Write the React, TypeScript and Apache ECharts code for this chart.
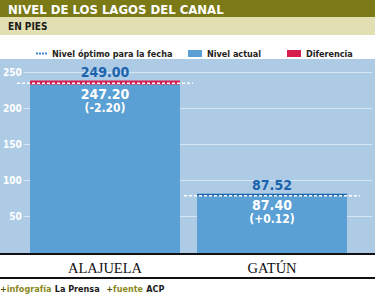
import React, { useEffect, useRef } from "react";
import * as echarts from "echarts";

const categories = ["ALAJUELA", "GATÚN"];
const nivelActual = [247.2, 87.4];
const diferencia: (number | null)[] = [1.8, null];
const excedente: (number | null)[] = [null, 0.12];
const nivelOptimo = [249.0, 87.4];
const etiquetaSuperior = ["249.00", "87.52"];
const etiquetaActual = ["247.20", "87.40"];
const etiquetaDiferencia = ["(-2.20)", "(+0.12)"];
const yMin = 0;
const yMax = 250;
const yInterval = 50;

const COND = "'DejaVu Sans Condensed','DejaVu Sans',sans-serif";
const SERIF = "'Liberation Serif','DejaVu Serif',serif";

export default function App() {
  const ref = useRef<HTMLDivElement>(null);
  useEffect(() => {
    if (!ref.current) return;
    const chart = echarts.init(ref.current, null, { renderer: "svg" });
    const topLabel = {
      show: true,
      position: "top",
      distance: 2,
      color: "#1b63ad",
      fontFamily: COND,
      fontWeight: "bold",
      fontSize: 14,
      formatter: (p: any) => etiquetaSuperior[p.dataIndex],
    };
    const legendText = { color: "#222", fontFamily: COND, fontWeight: "bold", fontSize: 9 };
    chart.setOption({
      animation: false,
      grid: [
        { left: 22, right: 3, top: 72, bottom: 43 },
        { left: 21.5, right: 19.5, top: 59, bottom: 42 },
      ],
      legend: [
        {
          left: 31, top: 44, itemWidth: 11, itemHeight: 7, selectedMode: false, itemGap: 0,
          textStyle: legendText,
          data: [{
            name: "Nivel óptimo para la fecha",
            icon: "path://M0 0h2v2H0zM3 0h2v2H3zM6 0h2v2H6zM9 0h2v2H9z",
            itemStyle: { color: "#3f86c8" },
          }],
        },
        {
          left: 183, top: 44, itemWidth: 14, itemHeight: 7, selectedMode: false,
          textStyle: legendText,
          data: [{ name: "Nivel actual", icon: "rect" }],
        },
        {
          left: 282, top: 44, itemWidth: 14, itemHeight: 7, selectedMode: false,
          textStyle: legendText,
          data: [{ name: "Diferencia", icon: "rect" }],
        },
      ],
      xAxis: [
        { gridIndex: 0, type: "category", data: categories, show: false },
        {
          gridIndex: 1, type: "category", data: categories, z: 60,
          axisLine: { show: false }, axisTick: { show: false },
          axisLabel: { margin: 7, fontFamily: SERIF, fontSize: 14.5, color: "#111" },
        },
      ],
      yAxis: [
        {
          gridIndex: 0, type: "value", min: yMin, max: yMax, interval: yInterval,
          axisLine: { show: false }, axisTick: { show: false },
          axisLabel: { showMinLabel: false, color: "#fff", fontFamily: COND, fontWeight: "bold", fontSize: 10, margin: 2 },
          splitLine: { show: true, showMinLine: false, lineStyle: { color: "#d6e6f4", width: 1 } },
        },
        { gridIndex: 1, type: "value", min: 5, max: 284, show: false },
      ],
      series: [
        {
          name: "Nivel actual", type: "bar", xAxisIndex: 1, yAxisIndex: 1, stack: "n",
          barWidth: 150, data: nivelActual, itemStyle: { color: "#5aa0d4" },
          label: {
            show: true, position: "insideTop", distance: 1.5,
            formatter: (p: any) => `{a|${etiquetaActual[p.dataIndex]}}\n{b|${etiquetaDiferencia[p.dataIndex]}}`,
            rich: {
              a: { color: "#fff", fontFamily: COND, fontWeight: "bold", fontSize: 14, lineHeight: 15 },
              b: { color: "#fff", fontFamily: COND, fontWeight: "bold", fontSize: 12, lineHeight: 14 },
            },
          },
        },
        {
          name: "Diferencia", type: "bar", xAxisIndex: 1, yAxisIndex: 1, stack: "n",
          barWidth: 150, barMinHeight: 4, data: diferencia, itemStyle: { color: "#d71f4f" },
          label: topLabel,
        },
        {
          name: "Excedente", type: "bar", xAxisIndex: 1, yAxisIndex: 1, stack: "n",
          barWidth: 150, barMinHeight: 2, data: excedente, itemStyle: { color: "#1b63ad" },
          label: topLabel,
        },
        {
          name: "Nivel óptimo para la fecha", type: "custom", xAxisIndex: 1, yAxisIndex: 1, z: 10,
          itemStyle: { color: "#3f86c8" },
          encode: { x: 0, y: 1 },
          data: nivelOptimo.map((v, i) => [i, v]),
          renderItem: (params: any, api: any) => {
            const p = api.coord([api.value(0), api.value(1)]);
            const half = api.size([1, 0])[0] * 0.527;
            return {
              type: "line",
              shape: { x1: p[0] - half, y1: p[1], x2: p[0] + half, y2: p[1] },
              style: { stroke: "#ffffff", lineWidth: 1.5, lineDash: [3, 2] },
            };
          },
        },
      ],
      graphic: [
        { type: "rect", z: -10, silent: true, shape: { x: 0, y: 59, width: 375, height: 194 }, style: { fill: "#aecbe6" } },
        { type: "rect", z: 1, shape: { x: 0, y: 0, width: 375, height: 17 }, style: { fill: "#7b7a17" } },
        { type: "rect", z: 1, shape: { x: 0, y: 17, width: 375, height: 18 }, style: { fill: "#e2e0b3" } },
        {
          type: "text", z: 2, x: 8, y: 9,
          style: { text: "NIVEL DE LOS LAGOS DEL CANAL", fill: "#fff", fontFamily: COND, fontWeight: "bold", fontSize: 13, verticalAlign: "middle" },
        },
        {
          type: "text", z: 2, x: 8, y: 26,
          style: { text: "EN PIES", fill: "#1a1a1a", fontFamily: COND, fontWeight: "bold", fontSize: 10, verticalAlign: "middle" },
        },
        { type: "rect", z: 50, shape: { x: 0, y: 253, width: 375, height: 26 }, style: { fill: "#ffffff" } },
        { type: "rect", z: 51, shape: { x: 0, y: 253, width: 375, height: 2 }, style: { fill: "#111" } },
        { type: "rect", z: 51, shape: { x: 0, y: 277, width: 375, height: 2 }, style: { fill: "#111" } },
        {
          type: "text", z: 52, x: 0, y: 289,
          style: {
            text: "{p|+}{o|infografía} {n|La Prensa}  {p|+}{o|fuente} {n|ACP}",
            verticalAlign: "middle",
            rich: {
              p: { fill: "#55540c", fontFamily: COND, fontWeight: "bold", fontSize: 9 },
              o: { fill: "#8a891c", fontFamily: COND, fontWeight: "bold", fontSize: 9 },
              n: { fill: "#1a1a1a", fontFamily: COND, fontWeight: "bold", fontSize: 9 },
            },
          },
        },
      ],
    });
    return () => chart.dispose();
  }, []);
  return <div ref={ref} style={{ position: "absolute", left: 0, top: 0, width: 375, height: 295 }} />;
}
